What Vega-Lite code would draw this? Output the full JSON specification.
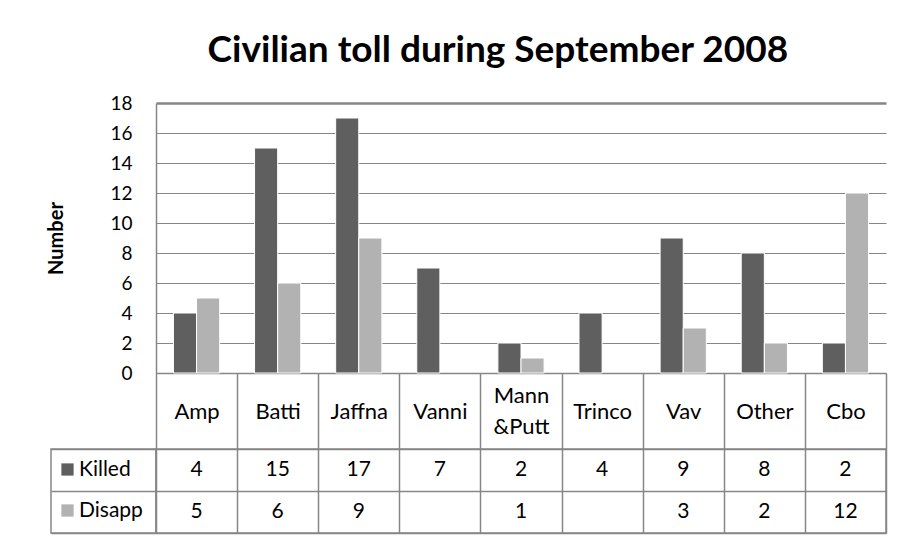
{
  "$schema": "https://vega.github.io/schema/vega-lite/v6.json",
  "padding": {"left": 46, "top": 32, "right": 5, "bottom": 5},
  "background": "white",
  "title": {
    "text": "Civilian toll during September 2008",
    "fontSize": 37,
    "font": "Lato",
    "fontWeight": "bold",
    "color": "black",
    "anchor": "middle",
    "dx": 31,
    "offset": 24
  },
  "datasets": {
    "toll": [
      {"place": "Amp", "series": "Killed", "count": 4},
      {"place": "Amp", "series": "Disapp", "count": 5},
      {"place": "Batti", "series": "Killed", "count": 15},
      {"place": "Batti", "series": "Disapp", "count": 6},
      {"place": "Jaffna", "series": "Killed", "count": 17},
      {"place": "Jaffna", "series": "Disapp", "count": 9},
      {"place": "Vanni", "series": "Killed", "count": 7},
      {"place": "Mann &Putt", "series": "Killed", "count": 2},
      {"place": "Mann &Putt", "series": "Disapp", "count": 1},
      {"place": "Trinco", "series": "Killed", "count": 4},
      {"place": "Vav", "series": "Killed", "count": 9},
      {"place": "Vav", "series": "Disapp", "count": 3},
      {"place": "Other", "series": "Killed", "count": 8},
      {"place": "Other", "series": "Disapp", "count": 2},
      {"place": "Cbo", "series": "Killed", "count": 2},
      {"place": "Cbo", "series": "Disapp", "count": 12}
    ]
  },
  "columns": 2,
  "spacing": {"row": 76, "column": 0},
  "bounds": "flush",
  "align": "each",
  "resolve": {"scale": {"x": "independent", "y": "independent"}},
  "concat": [
    {
      "width": 105,
      "height": 270,
      "data": {"values": [{"k": 1}]},
      "mark": {"type": "text", "text": "", "opacity": 0},
      "encoding": {}
    },
    {
      "width": 730,
      "height": 270,
      "data": {"name": "toll"},
      "mark": {"type": "bar", "stroke": "white", "strokeWidth": 1},
      "encoding": {
        "x": {
          "field": "place",
          "type": "nominal",
          "scale": {
            "domain": ["Amp", "Batti", "Jaffna", "Vanni", "Mann &Putt", "Trinco", "Vav", "Other", "Cbo"],
            "paddingInner": 0,
            "paddingOuter": 0
          },
          "axis": {
            "title": null,
            "orient": "bottom",
            "domain": true,
            "domainColor": "#868686",
            "domainWidth": 1.5,
            "ticks": true,
            "tickBand": "extent",
            "tickSize": 76,
            "tickColor": "#868686",
            "tickWidth": 1.5,
            "labelAngle": 0,
            "labelFontSize": 22,
            "labelColor": "black",
            "labelFont": "Lato",
            "labelBaseline": "middle",
            "labelPadding": {"condition": {"test": "datum.value == 'Mann &Putt'", "value": -54}, "value": -38},
            "labelLineHeight": 31,
            "labelOverlap": false,
            "labelExpr": "split(datum.label, ' ')"
          }
        },
        "xOffset": {
          "field": "series",
          "type": "nominal",
          "scale": {"domain": ["Killed", "Disapp"], "paddingInner": 0, "paddingOuter": 0.755}
        },
        "y": {
          "field": "count",
          "type": "quantitative",
          "scale": {"domain": [0, 18], "nice": false},
          "axis": {
            "title": "Number",
            "titleFontSize": 20,
            "titleFont": "Lato",
            "titleFontWeight": "bold",
            "titleColor": "black",
            "titlePadding": 43,
            "values": [0, 2, 4, 6, 8, 10, 12, 14, 16, 18],
            "labelFontSize": 19,
            "labelColor": "black",
            "labelFont": "Lato",
            "labelPadding": 24,
            "ticks": false,
            "tickSize": 0,
            "domain": true,
            "domainColor": "#868686",
            "domainWidth": 1.5,
            "grid": true,
            "gridColor": "#868686",
            "gridWidth": {"condition": {"test": "datum.value == 18", "value": 2.5}, "value": 1}
          }
        },
        "color": {
          "field": "series",
          "type": "nominal",
          "scale": {"domain": ["Killed", "Disapp"], "range": ["#5f5f5f", "#b2b2b2"]},
          "legend": {
            "title": null,
            "orient": "none",
            "legendX": 6,
            "legendY": 356,
            "direction": "vertical",
            "symbolType": "square",
            "symbolSize": 150,
            "symbolStrokeWidth": 0,
            "labelFontSize": 21,
            "labelFont": "Lato",
            "labelColor": "black",
            "labelOffset": 1,
            "rowPadding": 19,
            "padding": 0,
            "offset": 0
          }
        }
      }
    },
    {
      "width": 105,
      "height": 84,
      "data": {"name": "toll"},
      "view": {"stroke": "#868686", "strokeWidth": 1.5},
      "mark": {"type": "text", "text": "", "opacity": 0},
      "encoding": {
        "y": {
          "field": "series",
          "type": "nominal",
          "scale": {"domain": ["Killed", "Disapp"], "paddingInner": 0, "paddingOuter": 0},
          "axis": {
            "title": null,
            "labels": false,
            "ticks": false,
            "domain": false,
            "grid": true,
            "tickBand": "extent",
            "gridColor": "#868686",
            "gridWidth": 1.5
          }
        }
      }
    },
    {
      "width": 730,
      "height": 84,
      "data": {"name": "toll"},
      "view": {"stroke": "#868686", "strokeWidth": 1.5},
      "mark": {"type": "text", "fontSize": 21, "font": "Lato", "color": "black", "baseline": "middle"},
      "encoding": {
        "x": {
          "field": "place",
          "type": "nominal",
          "scale": {
            "domain": ["Amp", "Batti", "Jaffna", "Vanni", "Mann &Putt", "Trinco", "Vav", "Other", "Cbo"],
            "paddingInner": 0,
            "paddingOuter": 0
          },
          "axis": {
            "title": null,
            "labels": false,
            "ticks": false,
            "domain": false,
            "grid": true,
            "tickBand": "extent",
            "gridColor": "#868686",
            "gridWidth": 1.5
          }
        },
        "y": {
          "field": "series",
          "type": "nominal",
          "scale": {"domain": ["Killed", "Disapp"], "paddingInner": 0, "paddingOuter": 0},
          "axis": {
            "title": null,
            "labels": false,
            "ticks": false,
            "domain": false,
            "grid": true,
            "tickBand": "extent",
            "gridColor": "#868686",
            "gridWidth": 1.5
          }
        },
        "text": {"field": "count", "type": "quantitative"}
      }
    }
  ],
  "config": {
    "font": "Lato",
    "view": {"stroke": null}
  }
}
